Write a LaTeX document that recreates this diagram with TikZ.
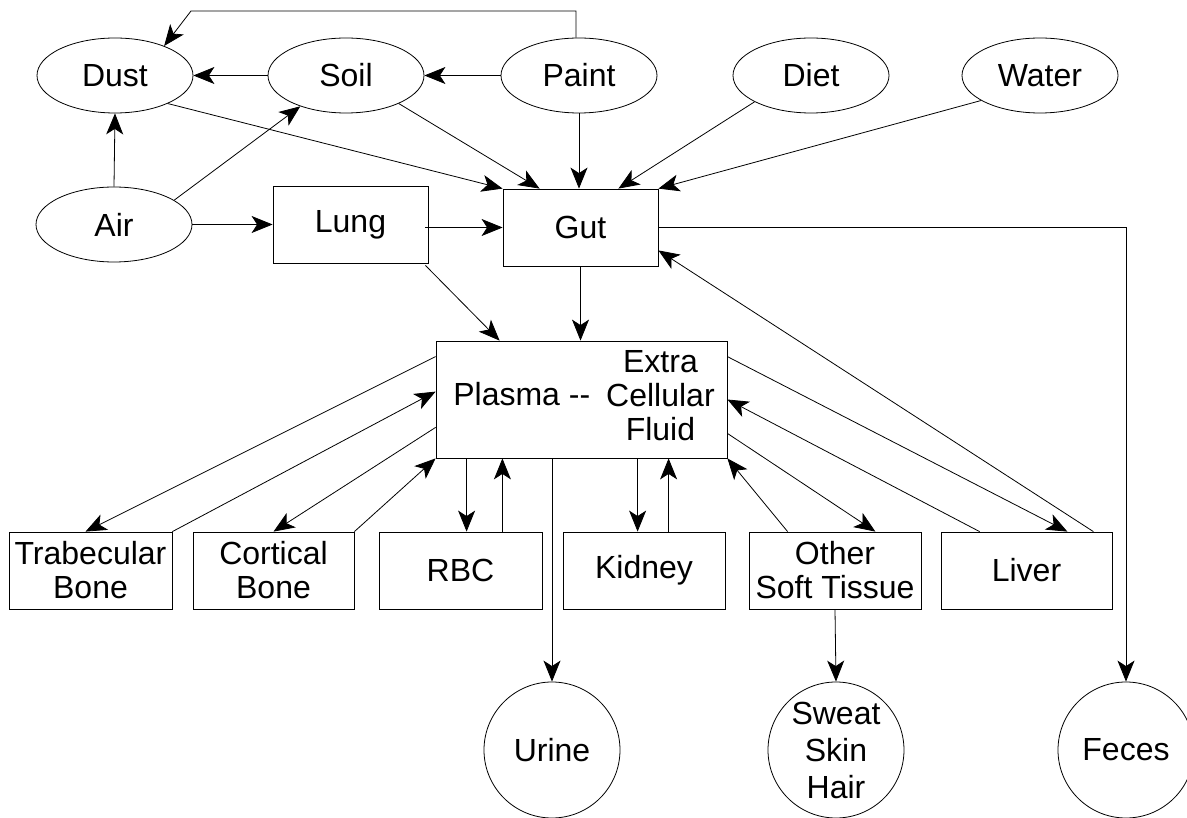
\documentclass[tikz,border=0pt]{standalone}
\usepackage{fontspec}
\setmainfont{Liberation Sans}
\usetikzlibrary{shapes.geometric,arrows.meta,calc}
\begin{document}
\begin{tikzpicture}[x=1pt,y=-1pt,
  every node/.style={font=\fontsize{32}{34}\selectfont, inner sep=0pt},
  src/.style={draw, ellipse, minimum width=156pt, minimum height=75pt, line width=0.8pt},
  box/.style={draw, rectangle, minimum height=77pt, line width=0.8pt, align=center},
  sink/.style={draw, circle, minimum size=136pt, line width=0.8pt, align=center},
  flow/.style={line width=0.8pt, -{Stealth[length=21pt,width=17pt,inset=5.5pt]}},
  link/.style={line width=0.8pt}
]
\path[use as bounding box, fill=white] (0,0) rectangle (1187,818);

% sources
\node[src] (Dust)  at (115,75.5)  {Dust};
\node[src] (Soil)  at (346,75.5)  {Soil};
\node[src] (Paint) at (579,75.5)  {Paint};
\node[src] (Diet)  at (811,75.5)  {Diet};
\node[src] (Water) at (1040,75.5) {Water};
\node[src] (Air)   at (114,224.5) {Air};

% compartments
\node[box, minimum width=155pt] (Lung) at (350.5,224.5) {Lung};
\node[box, minimum width=155pt] (Gut)  at (580.5,227.5) {Gut};
\node[box, minimum width=291pt, minimum height=117pt] (Plasma) at (581.5,399.5)
  {\hspace*{5pt}\begin{tabular}{@{}l@{\hspace{16pt}}c@{}}Plasma -{}- & \begin{tabular}{@{}c@{}}Extra\\Cellular\\Fluid\end{tabular}\end{tabular}};
\node[box, minimum width=163pt] (Trab)   at (90.5,570.5)  {Trabecular\\Bone};
\node[box, minimum width=161pt] (Cort)   at (273.5,570.5) {Cortical\\Bone};
\node[box, minimum width=163pt] (RBC)    at (460.5,570.5) {RBC};
\node[box, minimum width=162pt] (Kidney) at (644,570.5)   {Kidney};
\node[box, minimum width=172pt] (Other)  at (835,570.5)   {Other\\Soft Tissue};
\node[box, minimum width=171pt] (Liver)  at (1026.5,570.5) {Liver};

% sinks
\node[sink] (Urine) at (552,750) {Urine};
\node[sink, font=\fontsize{32}{37}\selectfont] (Sweat) at (836,750) {Sweat\\Skin\\Hair};
\node[sink] (Feces) at (1126,750) {Feces};

% helper coordinates
\coordinate (bend) at (191,11);
\coordinate (pr1) at ([xshift=31pt]Plasma.south west);
\coordinate (pr2) at ([xshift=-40pt]RBC.north east);
\coordinate (pk1) at ([xshift=75pt]Kidney.north west);
\coordinate (pk2) at ([xshift=106pt]Kidney.north west);

% top connectors
\draw[flow] ([xshift=-3pt]Paint.north) |- (bend) -- (Dust.31);
\draw[flow] (Soil.west) -- (Dust.east);
\draw[flow] (Paint.west) -- (Soil.east);
\draw[flow] (Air.north) -- (Dust.south);
\draw[flow] (Air.22) -- (Soil.214);
\draw[flow] (Air.east) -- (Lung.west);
\draw[flow] (Dust.-28) -- (Gut.north west);
\draw[flow] (Soil.-28) -- ([xshift=37pt]Gut.north west);
\draw[flow] (Paint.south) -- (Paint.south |- Gut.north);
\draw[flow] (Diet.205) -- ([xshift=-40pt]Gut.north east);
\draw[flow] (Water.203) -- (Gut.north east);
\draw[flow] ([xshift=-3pt]Lung.east |- Gut.west) -- (Gut.west);
\draw[flow] (Gut.east) -| (Feces.north);
\draw[flow] ([xshift=-3pt,yshift=-2pt]Lung.south east) -- ([xshift=64pt]Plasma.north west);
\draw[flow] (Gut.south) -- (Gut.south |- Plasma.north);

% plasma exchanges
\draw[flow] ([yshift=-16pt]Plasma.north west) -- ([xshift=-5pt]Trab.north);
\draw[flow] (Trab.north east) -- ([yshift=-51pt]Plasma.north west);
\draw[flow] ([yshift=31pt]Plasma.south west) -- (Cort.north);
\draw[flow] (Cort.north east) -- (Plasma.south west);
\draw[flow] (pr1) -- (pr1 |- RBC.north);
\draw[flow] (pr2) -- (pr2 |- Plasma.south);
\draw[flow] (Urine.north |- Plasma.south) -- (Urine.north);
\draw[flow] (pk1 |- Plasma.south) -- (pk1);
\draw[flow] (pk2) -- (pk2 |- Plasma.south);
\draw[flow] ([xshift=39pt]Other.north west) -- (Plasma.south east);
\draw[flow] ([yshift=25pt]Plasma.south east) -- ([xshift=-46pt]Other.north east);
\draw[flow] ([xshift=39pt]Liver.north west) -- (Plasma.east);
\draw[flow] ([yshift=-16pt]Plasma.north east) -- ([xshift=-45pt]Liver.north east);
\draw[flow] ([xshift=-19pt]Liver.north east) -- ([yshift=16pt]Gut.south east);
\draw[flow] (Other.south) -- (Sweat.north);
\end{tikzpicture}
\end{document}
